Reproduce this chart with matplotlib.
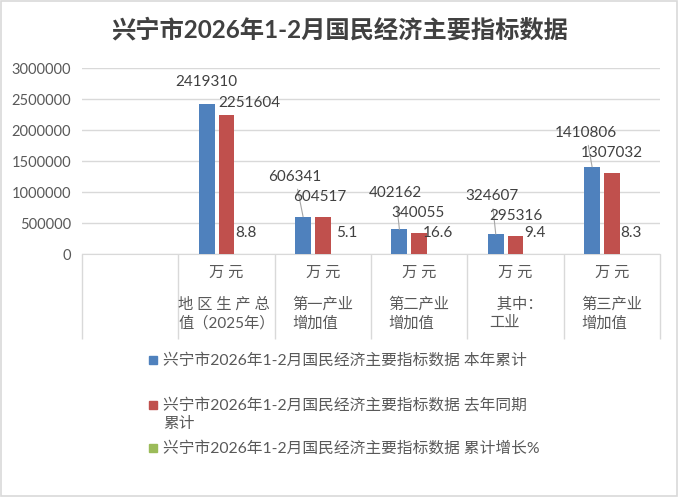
import matplotlib
matplotlib.use('Agg')
import matplotlib.pyplot as plt
import matplotlib.transforms as mtransforms
from matplotlib.patches import Rectangle
import numpy as np

plt.rcParams['font.family'] = ['Lato', 'Noto Sans CJK SC', 'DejaVu Sans']

# data
units = ['', '万 元', '万 元', '万 元', '万 元', '万 元']
names = ['', '地 区 生 产 总\n值（2025年）', '第一产业\n增加值', '第二产业\n增加值', '  其中：\n工业', '第三产业\n增加值']
this_year = [np.nan, 2419310, 606341, 402162, 324607, 1410806]
last_year = [np.nan, 2251604, 604517, 340055, 295316, 1307032]
growth = [np.nan, 8.8, 5.1, 16.6, 9.4, 8.3]
series_names = ['兴宁市2026年1-2月国民经济主要指标数据 本年累计',
                '兴宁市2026年1-2月国民经济主要指标数据 去年同期\n累计',
                '兴宁市2026年1-2月国民经济主要指标数据 累计增长%']
colors = ['#4F81BD', '#C0504D', '#9BBB59']

# label offsets in pixels (dx, dy) from bar top
blue_off = [None, (0, 22), (-8, 40), (-4, 36), (-4, 38), (-6, 34)]
blue_leader = [False, False, True, True, True, True]
red_off = [None, (23, 12), (-3, 20), (-1, 20), (0, 20), (0, 20)]
green_off = [None, (0, 21), (4, 21), (-1, 21), (0, 21), (-1, 21)]

fig = plt.figure(figsize=(6.8, 4.97), dpi=100)
fig.patches.append(Rectangle((0.002, 0.003), 0.994, 0.994, transform=fig.transFigure,
                             fill=False, edgecolor='#D9D9D9', lw=1.2))
ax = fig.add_axes([0.1206, 0.4883, 0.85, 0.3743])

x = np.arange(len(units))
w = 0.165
off = 0.205
series = [this_year, last_year, growth]
for i, (vals, c) in enumerate(zip(series, colors)):
    ax.bar(x + (i - 1) * off, vals, width=w, color=c, zorder=3)

ax.set_xlim(-0.5, 5.5)
ax.set_ylim(0, 3000000)
ax.set_yticks(np.arange(0, 3000001, 500000))
ax.set_yticklabels([str(v) for v in range(0, 3000001, 500000)])
ax.tick_params(axis='y', length=0, pad=8, labelsize=10.5, labelcolor='#595959')
ax.grid(axis='y', color='#D9D9D9', lw=1, zorder=0)
for s in ['left', 'right', 'top']:
    ax.spines[s].set_visible(False)
ax.spines['bottom'].set_color('#D9D9D9')
ax.set_xticks([])

# category separators and labels below axis
trans = mtransforms.blended_transform_factory(ax.transData, ax.transAxes)
ax.vlines(np.arange(-0.5, 6, 1), -0.455, 0, transform=trans, color='#D9D9D9',
          lw=1, clip_on=False)
for i in range(len(units)):
    ax.text(x[i], -0.1, units[i], transform=trans, ha='center', va='center',
            fontsize=11, color='#595959')
    ax.text(x[i], -0.23, names[i], transform=trans, ha='center', va='top',
            fontsize=11, color='#595959', multialignment='left', linespacing=1.4)

# data labels
lab_kw = dict(textcoords='offset pixels', ha='center', va='center', fontsize=11, color='#404040')
for i in range(1, len(units)):
    xb = x[i] - off
    if blue_leader[i]:
        ax.annotate(str(this_year[i]), (xb, this_year[i]), xytext=blue_off[i],
                    arrowprops=dict(arrowstyle='-', color='#A6A6A6', lw=0.8,
                                    shrinkA=2, shrinkB=0), **lab_kw)
    else:
        ax.annotate(str(this_year[i]), (xb, this_year[i]), xytext=blue_off[i], **lab_kw)
    ax.annotate(str(last_year[i]), (x[i], last_year[i]), xytext=red_off[i], **lab_kw)
    ax.annotate(str(growth[i]), (x[i] + off, growth[i]), xytext=green_off[i], **lab_kw)

fig.text(0.5, 1 - 30 / 497, '兴宁市2026年1-2月国民经济主要指标数据', ha='center', va='center',
         fontsize=17.5, fontweight='bold', color='#404040')

# legend
leg_y = [360, 405, 448]
for c, name, yy in zip(colors, series_names, leg_y):
    yf = 1 - yy / 497
    fig.patches.append(Rectangle((149 / 680, yf - 4 / 497), 8 / 680, 8 / 497,
                                 transform=fig.transFigure, color=c))
    fig.text(163 / 680, yf + 7 / 497, name, ha='left', va='top', fontsize=11.3,
             color='#595959', linespacing=1.4)

plt.savefig('out.png', dpi=100)
